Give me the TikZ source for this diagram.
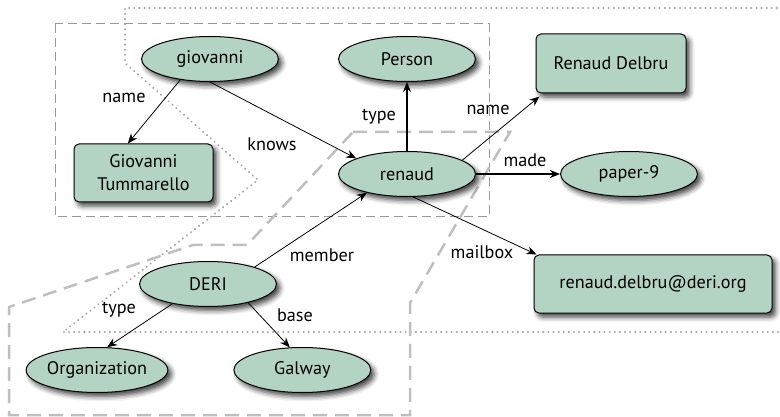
\documentclass[tikz,border=0pt]{standalone}
\usepackage{fontspec}
\setmainfont{PT Sans}
\usetikzlibrary{arrows.meta,positioning,shapes.geometric,shadows.blur}
\definecolor{nodegreen}{RGB}{179,212,194}

\begin{document}
\begin{tikzpicture}[
  x=1pt, y=-1pt,
  font=\fontsize{18.2}{23}\selectfont,
  shade/.style={blur shadow={shadow xshift=3.5pt, shadow yshift=-4pt, shadow blur radius=5pt, shadow opacity=75}},
  res/.style={ellipse, draw, line width=1pt, fill=nodegreen, minimum width=137pt, minimum height=45pt, inner sep=0pt, shade},
  lit/.style={rectangle, rounded corners=5pt, draw, line width=1pt, fill=nodegreen, align=center, inner sep=0pt, shade},
  lbl/.style={inner sep=0pt},
  arrow/.style={-{Stealth[length=10pt,width=8pt]}, line width=0.8pt},
  heavy/.style={arrow, line width=1.5pt},
  grp/.style={draw=black!40, line width=1pt, dash pattern=on 9pt off 5pt},
  grpdot/.style={draw=black!35, line width=2.2pt, line cap=round, dash pattern=on 0.1pt off 5pt},
  grplong/.style={draw=black!25, line width=2.5pt, dash pattern=on 14pt off 8pt}
]
\useasboundingbox (0,0) rectangle (780,417);

% groups
\draw[grp] (55,24) rectangle (489,217);
\draw[grpdot] (782,8) -- (125,8) -- (125,63) -- (258,180) -- (63,332) -- (782,332);
\draw[grplong] (353,132) -- (510,132) -- (410,303) -- (410,415) -- (9,415) -- (9,307) -- (193,245) -- (247,245) -- cycle;

% resources
\node[res] (giovanni) at (210,59) {giovanni};
\node[res] (renaud) at (407,174) {renaud};
\node[res, above=69pt of renaud] (person) {Person};
\node[res, right=84pt of renaud] (paper) {paper-9};
\node[res] (deri) at (208,284) {DERI};
\node[res] (org) at (97,370) {Organization};
\node[res, right=65pt of org] (galway) {Galway};

% literals
\node[lit, minimum width=150pt, minimum height=59pt] (delbru) at (611,63.5) {Renaud Delbru};
\node[lit, minimum width=139pt, minimum height=58pt] (tummarello) at (143.5,173) {Giovanni\\Tummarello};
\node[lit, minimum width=238pt, minimum height=58pt] (mailbox) at (653,284) {renaud.delbru@deri.org};

% labels
\node[lbl] (lname) at (124,98) {name};
\node[lbl] (lknows) at (272,144) {knows};
\node[lbl] (ltype) at (379,117) {type};
\node[lbl] (lrname) at (488,110) {name};
\node[lbl] (lmade) at (525,160) {made};
\node[lbl] (lmailbox) at (482,252) {mailbox};
\node[lbl] (lmember) at (322,255) {member};
\node[lbl] (lotype) at (119,310) {type};
\node[lbl] (lbase) at (295,315) {base};

\draw[arrow] (giovanni.215) -- (tummarello.118);
\draw[arrow] (giovanni.south) -- (renaud.163);
\draw[heavy] (renaud.north) -- (person.south);
\draw[arrow] (renaud.14) -- ([shift={(4pt,-3pt)}]delbru.south west);
\draw[heavy] (renaud.east) -- (paper.west);
\draw[arrow] (renaud.-75) -- ([xshift=3pt]mailbox.north west);
\draw[arrow] (deri.20) -- (renaud.205);
\draw[arrow] (deri.209) -- (org.66);
\draw[arrow] (deri.-25) -- (galway.119);

\end{tikzpicture}
\end{document}
